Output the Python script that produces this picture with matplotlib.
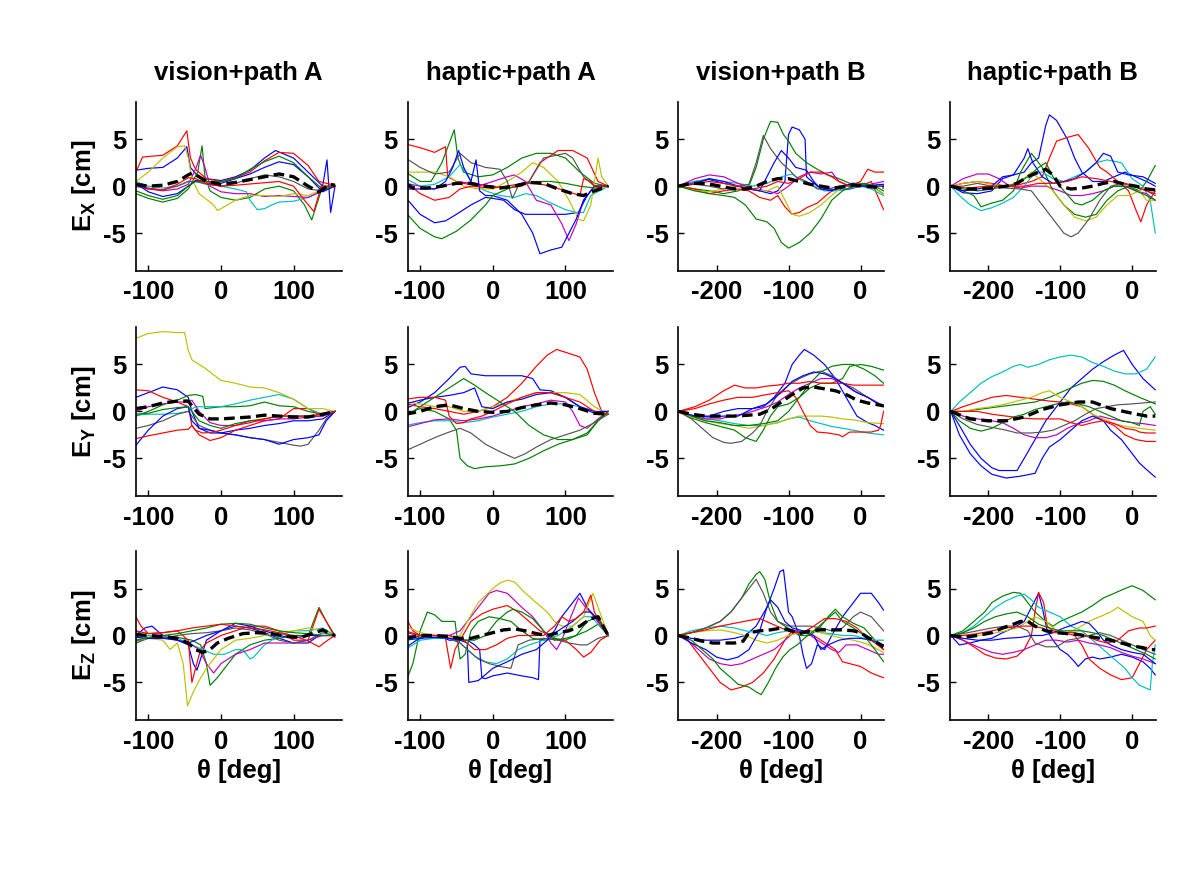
import matplotlib.pyplot as plt

plt.rcParams['font.family'] = 'Liberation Sans'
plt.rcParams['font.weight'] = 'bold'
plt.rcParams['axes.unicode_minus'] = False
plt.rcParams['mathtext.fontset'] = 'custom'
plt.rcParams['mathtext.rm'] = 'Liberation Sans:bold'
plt.rcParams['mathtext.it'] = 'Liberation Sans:bold'
plt.rcParams['mathtext.bf'] = 'Liberation Sans:bold'

# colour of each subject line, in drawing order (matlab default cycle)
colors = ['#0000ff', '#008000', '#ff0000', '#00bfbf', '#bf00bf', '#bfbf00', '#555555',
          '#0000ff', '#008000', '#ff0000']

titles = ['vision+path A', 'haptic+path A', 'vision+path B', 'haptic+path B']
ylabels = ['E$_\\mathrm{X}$ [cm]', 'E$_\\mathrm{Y}$ [cm]', 'E$_\\mathrm{Z}$ [cm]']
xlabel = '\u03b8 [deg]'
xticks_A = [-100, 0, 100]
xticks_B = [-200, -100, 0]
yticks = [-5, 0, 5]

# every panel: 10 subject traces (theta, error) + the mean trace

# ---------------- E_X ----------------
ex_visA = [
    [(-117,1.7),(-100,1.9),(-80,2.0),(-60,3.0),(-47,4.2),(-42,2.0),(-30,0.9),(0,0.6),(20,1.0),(40,1.7),(60,3.0),(75,3.8),(100,3.0),(120,1.5),(140,0.0),(146,2.8),(151,-2.8),(157,0.0)],
    [(-117,-0.8),(-100,-1.3),(-80,-1.7),(-60,-1.3),(-45,-0.3),(-32,1.5),(-26,4.3),(-22,1.0),(-15,-0.5),(0,-1.2),(20,-1.5),(40,-1.2),(60,-0.3),(80,0.0),(100,-0.5),(115,-2.0),(125,-3.6),(140,0.0),(157,0.0)],
    [(-117,1.5),(-108,3.1),(-80,3.3),(-60,4.3),(-47,5.9),(-42,3.0),(-35,1.8),(-20,0.8),(0,0.5),(20,0.9),(40,1.5),(60,2.7),(80,3.6),(100,3.5),(120,2.2),(135,0.5),(157,0.1)],
    [(-117,0.5),(-100,0.0),(-80,-0.2),(-60,0.0),(-45,0.5),(-35,0.5),(-20,0.3),(0,0.0),(20,-0.3),(35,-0.6),(40,-1.5),(50,-2.5),(60,-2.4),(70,-2.0),(80,-1.7),(100,-1.6),(120,-1.2),(140,-0.5),(157,0.0)],
    [(-117,0.0),(-100,-0.3),(-80,-0.5),(-60,-0.3),(-45,0.2),(-35,1.8),(-28,3.3),(-22,2.0),(-15,0.0),(0,-0.6),(20,-0.8),(40,-0.8),(60,-1.1),(80,-1.0),(100,-1.1),(120,-1.2),(140,-0.5),(157,0.0)],
    [(-117,0.5),(-100,1.5),(-80,3.0),(-60,4.2),(-50,4.3),(-45,3.0),(-40,0.8),(-30,-0.8),(-10,-2.0),(-5,-2.6),(0,-2.4),(20,-1.5),(40,-1.0),(60,-1.0),(80,-1.1),(100,-0.8),(120,-1.0),(135,-0.5),(157,0.0)],
    [(-117,0.3),(-100,-0.2),(-80,-0.4),(-60,0.0),(-45,0.5),(-35,0.5),(-20,0.2),(0,0.0),(20,0.3),(40,0.8),(60,1.2),(80,1.0),(100,0.5),(120,-0.3),(140,-0.5),(157,0.0)],
    [(-117,0.3),(-100,-0.6),(-80,-1.1),(-60,-0.8),(-45,0.0),(-35,0.6),(-20,0.5),(0,0.3),(20,0.8),(40,1.3),(60,2.0),(80,2.6),(100,2.3),(120,1.0),(140,-0.6),(157,0.0)],
    [(-117,-0.5),(-100,-1.0),(-80,-1.4),(-60,-1.0),(-45,0.0),(-35,0.5),(-20,0.5),(0,0.5),(20,0.8),(40,1.8),(60,2.6),(80,3.2),(100,2.5),(120,1.0),(140,-0.3),(157,0.0)],
    [(-117,0.3),(-100,-0.3),(-80,-0.4),(-60,0.2),(-45,0.9),(-35,0.8),(-20,0.3),(0,0.0),(20,0.1),(50,0.3),(80,0.5),(100,0.0),(115,-1.5),(128,-2.7),(138,0.0),(157,0.0)],
]
ex_visA_mean = [(-117,0.2),(-100,0.0),(-80,0.1),(-60,0.5),(-45,1.2),(-40,1.4),(-30,1.0),(-20,0.5),(0,0.2),(20,0.4),(40,0.7),(60,1.0),(80,1.3),(100,1.0),(120,0.0),(135,-0.6),(150,0.2),(157,0.1)]

ex_hapA = [
    [(-120,-1.2),(-100,-3.0),(-80,-3.9),(-65,-3.7),(-50,-3.0),(-30,-2.0),(-10,-1.2),(0,-1.3),(15,-1.5),(30,-2.5),(45,-3.0),(60,-3.0),(80,-3.0),(100,-3.0),(118,-2.8),(130,-1.0),(140,0.0),(159,0.0)],
    [(-120,1.5),(-100,0.5),(-85,0.5),(-70,2.5),(-53,6.0),(-48,3.0),(-40,1.5),(-20,1.0),(0,1.2),(20,2.0),(40,3.0),(60,3.5),(80,3.5),(100,3.0),(120,1.5),(140,0.3),(159,0.0)],
    [(-120,4.5),(-100,4.1),(-80,3.6),(-65,4.2),(-62,1.0),(-50,0.5),(-30,0.3),(0,0.0),(20,-0.2),(40,0.0),(50,0.5),(65,2.5),(90,3.8),(110,3.8),(130,3.0),(145,0.5),(159,0.0)],
    [(-120,0.8),(-100,0.0),(-80,0.2),(-60,1.0),(-45,2.3),(-40,1.8),(-30,0.5),(-10,-0.5),(10,-1.0),(30,-1.2),(45,-0.8),(60,-1.0),(80,-1.8),(100,-2.5),(115,-2.8),(125,-2.8),(135,-1.0),(159,0.0)],
    [(-120,0.3),(-100,0.0),(-80,-0.3),(-60,0.2),(-40,0.3),(-20,0.0),(0,0.5),(20,1.0),(30,1.2),(45,0.5),(60,-1.5),(80,-2.0),(95,-4.0),(105,-5.8),(115,-4.0),(125,-1.5),(140,0.0),(159,0.0)],
    [(-120,1.5),(-100,1.5),(-80,1.5),(-60,1.0),(-40,0.0),(-20,-0.3),(0,-0.3),(20,0.5),(40,1.5),(55,2.5),(70,2.0),(90,0.5),(105,-1.5),(118,-3.5),(125,-3.7),(135,-2.0),(145,3.0),(150,1.0),(159,0.0)],
    [(-120,3.0),(-100,2.0),(-80,1.3),(-60,1.5),(-45,3.5),(-30,2.5),(-10,2.0),(10,1.8),(20,0.5),(27,-1.3),(35,0.0),(50,0.5),(70,3.0),(100,3.5),(110,3.0),(125,1.0),(140,0.0),(159,0.0)],
    [(-120,-0.3),(-100,-0.3),(-80,-0.3),(-65,0.5),(-55,2.0),(-47,3.8),(-40,2.0),(-30,0.5),(-23,2.8),(-18,-0.5),(-10,-1.0),(0,-1.0),(20,-1.5),(40,-3.0),(55,-5.0),(65,-7.2),(80,-6.8),(95,-6.5),(105,-5.0),(115,-3.5),(125,-1.5),(140,0.0),(159,0.0)],
    [(-120,-2.8),(-100,-4.5),(-80,-5.4),(-70,-5.6),(-50,-4.8),(-30,-3.6),(-10,-2.0),(0,-1.0),(20,-0.3),(40,0.3),(60,0.5),(80,0.5),(100,0.3),(120,0.0),(140,-0.2),(159,0.0)],
    [(-120,0.5),(-100,-0.8),(-80,-1.5),(-60,-1.2),(-45,-0.3),(-30,0.0),(0,-0.2),(20,0.0),(40,0.3),(60,0.3),(80,0.0),(100,-0.5),(120,-1.0),(125,0.8),(135,0.5),(140,0.0),(159,0.0)],
]
ex_hapA_mean = [(-120,0.3),(-110,-0.2),(-90,-0.2),(-70,0.0),(-50,0.3),(-30,0.3),(-10,0.0),(10,-0.2),(30,0.0),(50,0.4),(70,0.3),(90,-0.3),(110,-0.8),(125,-1.0),(140,-0.5),(159,0.0)]

ex_visB = [
    [(-253,0),(-230,0.5),(-210,0.7),(-190,0.3),(-170,0.0),(-155,-0.3),(-140,-0.5),(-125,-0.8),(-115,-0.5),(-105,0.5),(-100,5.5),(-95,6.3),(-85,6.0),(-77,5.0),(-75,1.0),(-60,0.0),(-45,-0.3),(-30,-0.4),(-15,-0.3),(0,0.0),(15,0.0),(32,0.0)],
    [(-253,0),(-230,-0.3),(-210,-0.5),(-190,-0.8),(-170,-0.5),(-155,0.0),(-145,2.0),(-135,5.0),(-125,6.9),(-115,6.8),(-107,5.5),(-100,4.8),(-90,3.5),(-75,2.5),(-60,1.8),(-45,1.2),(-30,0.8),(-15,0.3),(0,0.3),(15,0.0),(32,-0.8)],
    [(-253,0),(-230,-0.3),(-210,-0.8),(-190,-0.5),(-170,-0.3),(-155,-0.5),(-140,-1.2),(-125,-1.5),(-115,-1.0),(-105,-2.2),(-95,-3.0),(-85,-2.8),(-75,-2.3),(-60,-1.8),(-45,-0.8),(-30,0.0),(-15,0.2),(0,0.0),(15,0.5),(32,-2.5)],
    [(-253,0),(-230,0.5),(-210,0.8),(-190,0.5),(-170,0.3),(-150,0.0),(-130,0.3),(-110,1.0),(-95,1.3),(-80,0.5),(-65,0.0),(-50,-0.5),(-35,-0.5),(-20,-0.3),(0,0.0),(15,-0.3),(32,-1.0)],
    [(-253,0),(-230,0.8),(-210,1.2),(-190,1.0),(-170,0.3),(-150,-0.3),(-130,-0.5),(-115,-0.8),(-100,0.0),(-85,1.0),(-70,1.5),(-55,1.3),(-40,1.5),(-30,0.5),(-15,0.0),(0,0.0),(20,0.3),(32,0.5)],
    [(-253,0),(-230,-0.5),(-210,-0.6),(-190,-0.3),(-170,0.0),(-150,-0.3),(-130,-0.5),(-115,0.0),(-105,-1.5),(-95,-3.0),(-85,-3.2),(-70,-2.8),(-55,-2.0),(-40,-1.0),(-25,0.0),(0,0.2),(15,0.0),(32,-0.8)],
    [(-253,0),(-230,0.2),(-210,0.0),(-190,-0.3),(-170,0.0),(-155,0.2),(-145,2.5),(-135,5.4),(-125,4.0),(-110,2.5),(-100,1.8),(-90,1.0),(-75,0.5),(-60,-0.3),(-45,-0.3),(-30,0.0),(-15,0.0),(0,0.2),(15,0.0),(32,0.0)],
    [(-253,0),(-230,0.3),(-210,0.8),(-190,0.5),(-170,0.0),(-155,-0.3),(-140,-0.5),(-130,1.0),(-120,2.5),(-110,3.8),(-100,3.0),(-90,2.0),(-75,1.7),(-65,0.5),(-55,-0.3),(-40,-0.5),(-25,0.0),(-10,0.3),(0,0.0),(32,0.2)],
    [(-253,0),(-230,-0.5),(-210,-0.8),(-190,-1.0),(-175,-1.2),(-160,-2.0),(-145,-3.5),(-130,-3.8),(-120,-4.5),(-110,-6.0),(-100,-6.6),(-85,-6.0),(-70,-5.0),(-55,-3.5),(-40,-1.5),(-25,-0.5),(-10,0.0),(5,0.3),(20,0.0),(32,-0.5)],
    [(-253,0),(-230,0.3),(-210,0.5),(-190,0.3),(-170,0.0),(-150,-0.3),(-130,0.0),(-115,0.5),(-100,0.3),(-85,0.8),(-70,1.5),(-55,1.5),(-40,1.0),(-30,0.5),(-15,0.0),(0,0.5),(10,1.8),(20,1.5),(32,1.5)],
]
ex_visB_mean = [(-253,0),(-235,0.3),(-215,0.3),(-195,0.0),(-175,-0.3),(-160,-0.3),(-145,0.0),(-130,0.5),(-115,0.8),(-100,0.8),(-85,0.5),(-70,0.2),(-55,0.0),(-40,-0.2),(-25,-0.1),(-10,0.1),(5,0.0),(20,-0.1),(32,-0.1)]

ex_hapB = [
    [(-252,0),(-235,-0.7),(-215,-0.8),(-195,-0.5),(-180,0.8),(-165,1.2),(-150,1.5),(-140,2.5),(-130,3.0),(-120,6.5),(-115,7.6),(-105,7.0),(-90,5.0),(-80,3.0),(-70,1.5),(-55,0.5),(-40,0.5),(-25,1.0),(-10,1.5),(5,1.0),(20,0.5),(32,0.0)],
    [(-252,0),(-235,-0.5),(-220,-1.0),(-210,-2.2),(-195,-1.8),(-180,-1.5),(-165,-0.5),(-155,1.5),(-140,3.5),(-125,2.0),(-110,-0.5),(-95,-2.0),(-80,-3.0),(-65,-3.3),(-50,-3.0),(-35,-1.5),(-20,-0.5),(-5,0.0),(10,-0.5),(20,0.5),(32,2.2)],
    [(-252,0),(-235,0.3),(-215,0.5),(-195,0.3),(-175,0.0),(-155,0.2),(-140,0.5),(-125,1.0),(-115,3.0),(-105,4.8),(-90,5.2),(-75,5.5),(-60,4.0),(-45,2.0),(-35,1.5),(-20,0.5),(-5,-0.5),(5,-2.5),(12,-3.8),(20,-2.0),(32,-0.5)],
    [(-252,0),(-240,-1.0),(-225,-2.0),(-210,-2.6),(-195,-2.3),(-180,-1.8),(-165,-1.2),(-150,0.0),(-135,1.5),(-125,1.5),(-110,0.8),(-95,0.5),(-80,1.0),(-65,1.5),(-50,2.5),(-35,2.8),(-15,2.5),(0,0.8),(15,0.0),(25,-1.5),(32,-5.0)],
    [(-252,0),(-235,0.8),(-215,1.3),(-200,1.3),(-185,0.8),(-170,0.0),(-155,-0.2),(-140,0.0),(-120,0.0),(-100,-0.5),(-85,-1.0),(-70,-1.0),(-55,-0.8),(-40,-0.5),(-25,0.0),(-10,0.0),(5,-0.5),(20,-0.8),(32,-1.5)],
    [(-252,0),(-235,0.3),(-215,0.5),(-195,0.2),(-175,0.0),(-155,0.5),(-140,1.5),(-125,0.5),(-110,-0.5),(-95,-2.0),(-80,-3.3),(-65,-3.7),(-50,-3.3),(-35,-2.0),(-20,-1.0),(-5,-1.0),(10,-0.5),(20,-1.5),(32,-1.5)],
    [(-252,0),(-235,0.0),(-215,0.3),(-195,0.0),(-175,-0.2),(-155,-0.3),(-140,-0.5),(-125,-2.0),(-110,-3.5),(-95,-5.0),(-85,-5.4),(-75,-5.0),(-60,-3.5),(-45,-1.5),(-30,0.0),(-15,0.3),(0,0.0),(20,-0.5),(32,-1.0)],
    [(-252,0),(-235,-0.5),(-215,-0.3),(-195,0.0),(-180,1.0),(-165,1.2),(-150,3.0),(-145,4.0),(-138,2.5),(-125,1.0),(-110,0.3),(-95,0.5),(-80,0.8),(-65,1.5),(-50,2.5),(-40,3.5),(-30,3.2),(-20,1.5),(-5,1.2),(15,1.0),(32,0.3)],
    [(-252,0),(-235,-0.3),(-215,-0.5),(-195,-0.3),(-175,0.0),(-160,0.3),(-145,1.0),(-130,2.0),(-120,2.5),(-110,1.0),(-95,-0.5),(-80,-1.8),(-70,-2.0),(-55,-1.5),(-40,-0.5),(-25,0.0),(-10,0.0),(5,-0.5),(20,-1.0),(32,-1.5)],
    [(-252,0),(-230,-0.2),(-200,0.0),(-170,0.0),(-150,0.0),(-130,0.3),(-110,0.3),(-90,0.5),(-70,1.0),(-50,0.8),(-30,0.5),(-10,0.3),(5,0.0),(20,-0.5),(32,-0.8)],
]
ex_hapB_mean = [(-252,0),(-235,-0.3),(-215,-0.3),(-195,-0.2),(-175,0.0),(-160,0.3),(-145,1.0),(-130,1.5),(-120,1.8),(-110,1.2),(-100,0.0),(-85,-0.3),(-70,-0.2),(-55,0.0),(-40,0.3),(-25,0.5),(-10,0.2),(5,0.0),(20,-0.3),(32,-0.4)]

# ---------------- E_Y ----------------
ey_visA = [
    [(-117,1.5),(-100,2.0),(-80,2.6),(-60,2.3),(-45,1.5),(-40,0.0),(-30,-1.8),(-15,-2.3),(0,-2.3),(20,-2.0),(40,-1.8),(60,-1.5),(80,-1.3),(100,-1.0),(120,-1.0),(140,-0.8),(157,0.0)],
    [(-117,-0.5),(-100,0.0),(-80,0.7),(-60,1.2),(-45,1.7),(-35,1.8),(-25,1.6),(-22,0.3),(0,0.5),(20,0.5),(40,0.6),(60,1.0),(80,0.6),(100,0.5),(120,0.0),(140,-0.3),(157,0.0)],
    [(-117,2.3),(-100,2.2),(-80,1.5),(-60,1.0),(-45,0.5),(-40,-1.5),(-30,-2.5),(-15,-3.1),(0,-2.8),(20,-2.0),(40,-1.5),(60,-1.0),(80,-0.8),(100,0.3),(120,0.3),(140,-0.5),(157,0.0)],
    [(-117,-0.4),(-100,-0.3),(-80,-0.3),(-60,-0.2),(-45,0.0),(-35,0.5),(-20,0.5),(0,0.5),(20,0.8),(40,1.2),(60,1.5),(80,1.8),(100,1.3),(120,0.3),(140,-0.3),(157,0.0)],
    [(-117,0.0),(-100,0.5),(-80,0.8),(-60,1.0),(-45,1.0),(-40,1.2),(-30,0.0),(-15,-1.2),(0,-1.5),(20,-1.5),(40,-1.0),(60,-1.0),(80,-0.8),(100,-0.8),(120,-0.6),(140,-0.5),(157,0.0)],
    [(-117,7.8),(-100,8.3),(-80,8.5),(-60,8.4),(-50,8.4),(-45,6.5),(-40,5.5),(-20,4.5),(0,3.3),(20,3.0),(40,2.6),(60,2.5),(80,2.0),(100,1.3),(120,0.3),(140,0.3),(157,0.0)],
    [(-117,-1.8),(-100,-1.5),(-80,-1.0),(-60,-0.3),(-45,0.0),(-40,-0.5),(-30,-1.5),(-15,-2.0),(0,-2.3),(20,-2.5),(40,-2.8),(60,-3.0),(80,-3.3),(100,-3.6),(110,-3.7),(120,-3.5),(135,-2.0),(145,-0.8),(157,0.0)],
    [(-117,-3.6),(-100,-2.0),(-80,-0.5),(-60,0.3),(-45,0.5),(-40,-1.0),(-30,-1.8),(-15,-2.0),(0,-2.3),(20,-2.5),(40,-2.8),(60,-3.0),(80,-3.5),(100,-3.0),(120,-2.8),(135,-2.5),(145,-1.0),(157,0.0)],
    [(-117,-0.3),(-100,-0.2),(-80,0.2),(-60,0.4),(-45,0.5),(-40,0.0),(-30,-1.0),(-15,-1.5),(0,-1.8),(20,-1.3),(40,-1.0),(60,-0.8),(80,-0.5),(100,-0.5),(120,-0.5),(140,-0.3),(157,0.0)],
    [(-117,-2.9),(-100,-2.6),(-80,-2.3),(-60,-2.0),(-45,-1.9),(-40,-1.5),(-35,-2.0),(-25,-2.3),(-10,-2.2),(0,-2.0),(20,-1.5),(40,-1.2),(60,-0.8),(80,-0.5),(100,-0.5),(120,-0.5),(140,-0.3),(157,0.0)],
]
ey_visA_mean = [(-117,0.3),(-100,0.5),(-80,0.9),(-60,1.1),(-45,1.1),(-40,0.6),(-30,-0.3),(-15,-0.8),(0,-0.8),(20,-0.7),(40,-0.6),(60,-0.4),(80,-0.5),(100,-0.6),(120,-0.6),(140,-0.3),(157,0.0)]

ey_hapA = [
    [(-120,0.3),(-100,1.0),(-80,2.0),(-60,3.5),(-45,4.7),(-38,4.8),(-30,4.0),(-10,3.8),(10,3.8),(40,3.8),(55,3.5),(65,2.3),(80,2.2),(100,1.5),(120,0.5),(140,-0.2),(159,-0.3)],
    [(-120,-0.3),(-100,0.3),(-80,0.0),(-60,-0.8),(-50,-2.0),(-45,-5.0),(-35,-5.8),(-25,-6.1),(-10,-5.9),(10,-5.8),(30,-5.6),(50,-5.0),(70,-4.2),(90,-3.5),(110,-3.0),(130,-2.3),(145,-1.0),(159,0.0)],
    [(-120,0.8),(-100,0.5),(-80,0.3),(-60,0.0),(-40,-0.3),(-20,0.0),(0,0.5),(20,1.5),(40,3.0),(60,4.8),(75,6.0),(88,6.6),(100,6.3),(120,5.8),(130,4.5),(140,2.0),(150,0.0),(159,0.0)],
    [(-120,-1.5),(-100,-1.2),(-80,-1.0),(-60,-1.0),(-40,-1.2),(-20,-1.0),(0,-0.6),(20,-0.3),(40,0.0),(60,0.5),(80,0.8),(100,0.8),(120,0.5),(140,0.0),(159,-0.3)],
    [(-120,-1.7),(-100,-1.3),(-80,-0.9),(-60,-0.8),(-40,-1.0),(-20,-0.8),(0,-0.5),(20,0.0),(40,0.5),(60,0.8),(80,1.2),(100,1.0),(110,0.0),(120,-1.5),(130,-1.8),(145,-0.8),(159,0.0)],
    [(-120,1.0),(-100,0.8),(-80,0.5),(-60,0.5),(-40,0.0),(-20,0.0),(0,0.5),(20,1.0),(40,1.5),(60,2.0),(80,2.0),(100,2.0),(120,1.8),(140,0.5),(159,-0.3)],
    [(-120,-4.2),(-100,-3.5),(-80,-2.8),(-60,-2.2),(-45,-1.8),(-30,-2.3),(-10,-3.5),(10,-4.3),(30,-5.0),(45,-4.5),(60,-3.8),(80,-3.0),(100,-2.5),(120,-2.0),(140,-1.2),(159,-0.3)],
    [(-120,0.8),(-100,1.2),(-80,1.5),(-60,1.7),(-40,2.0),(-25,2.5),(-15,0.5),(0,0.3),(20,1.0),(40,1.3),(60,1.8),(80,2.0),(100,1.5),(120,0.5),(140,0.0),(159,0.0)],
    [(-120,-0.5),(-100,0.5),(-80,1.5),(-60,2.5),(-40,3.5),(-25,2.8),(-10,2.0),(10,1.0),(30,0.0),(50,-1.5),(70,-2.5),(90,-3.0),(110,-3.0),(130,-2.5),(145,-1.0),(159,0.0)],
    [(-120,1.3),(-100,1.5),(-80,1.5),(-65,1.2),(-60,-0.5),(-50,-1.3),(-40,-1.2),(-30,-0.8),(-15,-0.5),(0,0.0),(20,0.8),(40,1.5),(60,2.0),(80,2.0),(100,1.5),(120,1.0),(140,0.0),(159,-0.3)],
]
ey_hapA_mean = [(-120,-0.3),(-100,0.0),(-80,0.5),(-60,0.7),(-40,0.3),(-20,0.0),(0,-0.1),(20,0.0),(40,0.4),(60,0.7),(80,0.9),(100,0.7),(120,0.3),(140,-0.2),(159,-0.3)]

ey_visB = [
    [(-253,0),(-230,-0.5),(-210,-0.5),(-190,0.0),(-170,0.3),(-150,0.3),(-135,0.5),(-120,1.5),(-105,3.0),(-95,5.0),(-85,6.0),(-78,6.6),(-65,6.0),(-50,5.0),(-35,3.5),(-20,1.5),(-5,-0.5),(10,-1.2),(20,-1.5),(32,-2.0)],
    [(-253,0),(-235,-0.7),(-215,-1.2),(-195,-1.6),(-175,-2.0),(-160,-2.8),(-145,-3.2),(-135,-2.0),(-125,-0.5),(-115,0.5),(-100,0.8),(-85,1.5),(-70,2.5),(-55,3.0),(-40,3.0),(-25,3.5),(-15,4.8),(0,5.0),(15,4.8),(32,4.4)],
    [(-253,0),(-230,0.5),(-210,1.2),(-190,2.2),(-175,2.8),(-160,2.5),(-145,2.5),(-130,2.7),(-115,2.8),(-100,3.0),(-85,3.0),(-70,3.2),(-55,3.0),(-40,3.0),(-25,3.0),(-10,2.8),(10,2.8),(32,2.8)],
    [(-253,0),(-235,-0.5),(-215,-0.8),(-195,-1.0),(-175,-1.3),(-155,-1.5),(-135,-1.5),(-115,-1.2),(-100,-0.8),(-85,-0.6),(-70,-1.0),(-55,-1.3),(-40,-1.6),(-25,-1.8),(-10,-2.0),(10,-2.3),(32,-2.5)],
    [(-253,0),(-235,-0.5),(-215,-0.8),(-195,-0.8),(-180,-0.5),(-165,-0.3),(-150,0.0),(-130,0.5),(-115,1.0),(-100,1.8),(-85,2.5),(-70,3.0),(-55,3.5),(-40,3.5),(-25,3.0),(-10,2.2),(10,1.5),(32,0.6)],
    [(-253,0),(-235,-0.6),(-215,-1.0),(-195,-1.3),(-175,-1.5),(-155,-1.8),(-135,-1.5),(-115,-1.2),(-100,-0.8),(-85,-0.5),(-70,-0.5),(-55,-0.5),(-40,-0.6),(-25,-0.8),(-10,-0.9),(10,-1.2),(32,-1.3)],
    [(-253,0),(-235,-0.8),(-220,-1.8),(-205,-2.8),(-190,-3.3),(-180,-3.4),(-165,-3.2),(-150,-2.3),(-140,-1.5),(-130,0.0),(-115,1.8),(-100,2.8),(-85,3.5),(-70,4.0),(-55,4.3),(-40,3.8),(-25,3.0),(-10,2.5),(10,1.5),(32,0.5)],
    [(-253,0),(-230,-0.5),(-210,-0.6),(-190,-0.5),(-170,-0.5),(-150,0.3),(-130,0.8),(-110,2.0),(-95,3.2),(-80,3.8),(-65,4.2),(-50,4.0),(-35,3.5),(-20,2.8),(-5,2.0),(10,1.5),(20,1.0),(32,0.5)],
    [(-253,0),(-235,-0.5),(-215,-1.0),(-195,-1.2),(-175,-1.5),(-155,-1.5),(-135,-1.3),(-115,-1.0),(-100,0.0),(-85,1.5),(-70,3.0),(-55,4.2),(-40,4.8),(-25,5.0),(-10,5.0),(5,4.5),(20,3.8),(32,3.0)],
    [(-253,0),(-230,0.3),(-210,0.8),(-190,1.2),(-170,1.5),(-150,1.5),(-130,1.8),(-115,2.0),(-100,2.2),(-90,1.5),(-80,0.0),(-70,-1.5),(-60,-2.2),(-45,-2.3),(-30,-2.5),(-25,-2.7),(-15,-2.2),(0,-2.2),(15,-2.2),(25,-2.0),(28,-1.5),(32,0.0)],
]
ey_visB_mean = [(-253,0),(-235,-0.3),(-215,-0.5),(-195,-0.5),(-175,-0.5),(-155,-0.4),(-140,-0.3),(-125,0.2),(-110,1.0),(-95,1.8),(-80,2.5),(-65,2.6),(-50,2.4),(-35,2.2),(-20,1.8),(-5,1.2),(10,0.9),(32,0.6)]

ey_hapB = [
    [(-252,0),(-240,-1.5),(-225,-3.5),(-210,-5.0),(-195,-6.0),(-185,-6.3),(-160,-6.3),(-150,-5.0),(-135,-3.0),(-120,-1.0),(-100,1.0),(-85,2.5),(-70,3.5),(-55,4.5),(-40,5.3),(-25,6.0),(-12,6.5),(0,5.0),(15,3.5),(32,2.3)],
    [(-252,0),(-235,0.0),(-215,0.2),(-195,0.4),(-175,0.6),(-155,0.8),(-135,1.0),(-115,1.5),(-100,2.0),(-85,2.5),(-70,3.0),(-55,3.3),(-40,3.2),(-25,2.8),(-10,2.2),(10,1.5),(32,0.8)],
    [(-252,0),(-235,0.5),(-215,1.0),(-195,1.5),(-175,1.7),(-155,1.5),(-135,1.3),(-115,1.1),(-100,1.0),(-85,0.8),(-70,0.5),(-55,-0.3),(-40,-1.0),(-25,-1.5),(-10,-2.5),(5,-3.0),(20,-3.2),(32,-3.2)],
    [(-252,0),(-240,1.0),(-225,2.0),(-210,3.0),(-195,3.7),(-180,4.2),(-165,4.8),(-155,5.0),(-145,4.7),(-130,5.0),(-115,5.5),(-100,5.8),(-85,6.0),(-70,5.8),(-55,5.2),(-40,4.8),(-25,4.3),(-10,4.0),(5,4.0),(20,4.5),(32,5.8)],
    [(-252,0),(-235,-0.5),(-215,-0.8),(-195,-1.0),(-180,-1.2),(-165,-1.8),(-150,-2.5),(-135,-2.8),(-120,-2.8),(-105,-2.5),(-90,-1.8),(-75,-1.3),(-60,-1.0),(-45,-0.5),(-30,-0.8),(-15,-1.0),(0,-1.2),(15,-1.3),(32,-1.5)],
    [(-252,0),(-235,0.0),(-215,0.3),(-195,0.5),(-175,0.8),(-155,1.2),(-140,1.5),(-125,2.0),(-115,2.2),(-100,1.5),(-85,1.0),(-70,0.5),(-55,-0.3),(-40,-0.8),(-25,-1.3),(-10,-1.6),(10,-1.8),(32,-2.0)],
    [(-252,0),(-235,-0.8),(-215,-1.4),(-195,-1.7),(-175,-2.0),(-160,-2.3),(-140,-2.3),(-125,-2.2),(-110,-2.0),(-95,-1.5),(-80,-1.0),(-65,-0.3),(-50,0.3),(-35,0.5),(-20,0.7),(0,0.8),(15,0.9),(32,1.0)],
    [(-252,0),(-240,-2.5),(-225,-4.5),(-210,-5.8),(-195,-6.7),(-175,-7.1),(-155,-6.9),(-135,-6.6),(-125,-5.0),(-115,-3.8),(-100,-3.0),(-85,-2.0),(-70,-1.0),(-55,-0.5),(-40,-1.0),(-30,-2.0),(-15,-3.0),(-5,-4.0),(10,-5.5),(20,-6.2),(32,-7.0)],
    [(-252,0),(-240,-1.0),(-225,-1.8),(-210,-2.1),(-195,-1.8),(-180,-1.2),(-165,-0.6),(-150,-0.3),(-135,0.2),(-120,0.5),(-105,0.8),(-90,1.0),(-75,0.8),(-60,0.5),(-45,0.0),(-30,-0.5),(-15,-1.0),(0,-1.2),(10,-1.5),(15,0.0),(25,0.5),(32,-0.3)],
    [(-252,0),(-235,0.0),(-215,0.0),(-195,-0.3),(-175,-0.5),(-155,-0.7),(-135,-0.8),(-115,-0.8),(-100,-0.8),(-85,-1.2),(-70,-1.5),(-55,-1.2),(-40,-1.0),(-25,-1.3),(-10,-1.8),(5,-2.0),(10,-2.2),(20,-2.3),(32,-2.3)],
]
ey_hapB_mean = [(-252,0),(-225,-0.8),(-200,-1.0),(-175,-1.0),(-150,-0.6),(-125,0.2),(-100,0.7),(-75,1.0),(-55,1.0),(-30,0.3),(0,-0.2),(20,-0.5),(32,-0.5)]

# ---------------- E_Z ----------------
ez_visA = [
    [(-117,0.0),(-105,0.8),(-95,1.0),(-80,0.0),(-60,-0.5),(-45,-1.0),(-38,-3.0),(-33,-3.7),(-28,-2.5),(-20,-0.5),(0,0.5),(20,1.0),(40,0.8),(60,0.3),(80,-0.3),(100,-0.8),(120,-0.8),(135,0.0),(157,0.0)],
    [(-117,-0.8),(-100,-0.3),(-80,0.0),(-60,-0.2),(-40,-0.5),(-28,-1.0),(-20,-3.0),(-15,-5.3),(-5,-4.5),(5,-3.5),(20,-2.0),(40,-1.0),(60,-0.5),(80,-0.3),(100,0.0),(120,0.0),(135,3.0),(145,1.5),(157,0.0)],
    [(-117,2.0),(-110,1.0),(-100,0.2),(-80,0.3),(-60,0.5),(-45,-0.5),(-40,-5.0),(-35,-3.5),(-28,-1.5),(-20,-0.8),(0,0.0),(20,0.5),(40,1.0),(60,1.0),(80,0.5),(100,-0.5),(120,-0.5),(135,2.8),(145,1.5),(157,-0.2)],
    [(-117,-0.2),(-100,0.0),(-80,0.0),(-60,-0.3),(-40,-1.0),(-25,-1.5),(-10,-2.0),(5,-2.0),(20,-1.5),(30,-1.5),(40,-2.5),(45,-2.3),(60,-1.0),(80,0.0),(100,0.5),(120,0.5),(140,0.8),(157,0.0)],
    [(-117,-0.6),(-100,-0.3),(-80,-0.2),(-60,-0.5),(-40,-1.0),(-30,-1.5),(-20,-3.0),(-10,-4.0),(0,-3.0),(20,-2.0),(40,-1.5),(60,-0.8),(80,-0.8),(100,-0.8),(120,-0.5),(140,0.0),(157,0.0)],
    [(-117,-0.5),(-100,-0.3),(-80,-0.5),(-70,-1.5),(-60,-0.8),(-52,-3.0),(-46,-7.5),(-38,-6.0),(-30,-4.8),(-20,-3.5),(-10,-2.5),(0,-1.5),(20,-0.5),(40,-0.3),(60,0.0),(80,0.3),(100,0.5),(120,0.8),(140,0.5),(157,0.0)],
    [(-117,0.5),(-100,-0.3),(-80,-0.3),(-60,0.0),(-40,0.2),(-20,0.3),(0,0.5),(20,0.8),(40,0.6),(60,0.2),(80,-0.5),(100,-0.8),(120,-0.5),(140,0.3),(157,0.0)],
    [(-117,-0.2),(-100,-0.3),(-80,-0.3),(-60,-0.5),(-45,-0.8),(-35,-0.5),(-20,0.0),(0,0.5),(20,1.3),(40,1.0),(60,0.5),(80,0.0),(100,-0.3),(120,0.0),(140,0.0),(157,0.0)],
    [(-117,-0.5),(-100,-0.2),(-80,0.0),(-60,0.2),(-40,0.5),(-20,0.8),(0,1.2),(20,1.3),(40,1.2),(60,0.8),(80,0.5),(100,0.3),(120,0.2),(140,0.0),(157,0.0)],
    [(-117,0.5),(-100,0.2),(-80,0.3),(-60,0.5),(-40,0.8),(-20,1.0),(0,1.2),(20,1.0),(40,0.8),(60,0.6),(80,0.3),(100,0.0),(120,-0.6),(135,-1.2),(147,-0.5),(157,0.0)],
]
ez_visA_mean = [(-117,0.1),(-100,0.0),(-80,-0.1),(-60,-0.3),(-45,-0.8),(-35,-1.5),(-25,-1.8),(-15,-1.5),(-5,-0.8),(10,-0.3),(30,0.2),(50,0.3),(70,0.2),(90,-0.1),(110,-0.2),(130,0.3),(140,0.6),(150,0.2),(157,0.0)]

ez_hapA = [
    [(-120,-1.3),(-105,-0.5),(-90,0.0),(-75,0.0),(-60,-0.5),(-45,-0.5),(-35,-0.8),(-33,-5.0),(-20,-4.8),(-15,-4.5),(-10,-4.6),(0,-4.3),(20,-4.0),(40,-4.3),(55,-4.5),(63,-4.7),(65,-0.5),(75,-0.3),(85,0.5),(95,2.0),(110,3.5),(120,4.5),(130,3.0),(140,2.0),(150,1.0),(159,0.0)],
    [(-120,-5.0),(-110,-3.0),(-100,0.5),(-90,2.5),(-80,2.2),(-70,1.5),(-60,1.5),(-52,1.5),(-45,-2.5),(-38,-2.0),(-30,0.5),(-20,1.5),(-5,2.0),(10,1.8),(25,1.5),(40,0.5),(55,-0.3),(70,-0.5),(85,-0.3),(100,-0.5),(115,0.0),(130,0.5),(145,1.2),(159,0.0)],
    [(-120,2.0),(-110,0.5),(-100,0.0),(-80,-0.3),(-65,-0.3),(-58,-3.5),(-52,-1.5),(-45,-0.5),(-30,1.5),(-15,2.3),(0,2.8),(20,3.2),(35,2.5),(50,1.5),(65,0.5),(80,0.0),(90,-0.5),(100,-0.5),(115,-1.5),(125,-2.3),(135,-1.8),(148,-0.5),(159,0.0)],
    [(-120,-1.5),(-100,-0.5),(-80,-0.3),(-60,-0.3),(-45,-0.8),(-35,-1.5),(-25,-2.2),(-10,-2.8),(5,-3.0),(20,-2.5),(35,-1.5),(50,-1.0),(70,-0.5),(90,0.0),(110,1.0),(125,2.0),(135,2.0),(148,1.0),(159,0.0)],
    [(-120,0.3),(-100,0.0),(-80,0.0),(-60,0.0),(-45,0.5),(-35,1.5),(-20,3.0),(-5,4.5),(5,4.8),(20,4.5),(40,3.0),(55,2.0),(70,0.5),(80,-0.8),(88,-1.5),(95,-0.5),(105,1.5),(118,4.0),(128,3.0),(140,2.0),(159,0.0)],
    [(-120,1.0),(-100,0.3),(-80,0.0),(-60,-0.3),(-45,0.0),(-35,1.5),(-20,3.5),(0,5.0),(10,5.6),(20,5.9),(30,5.7),(45,4.5),(60,3.5),(75,2.5),(85,1.5),(95,1.0),(110,1.0),(125,2.0),(138,4.5),(145,3.0),(152,1.5),(159,0.0)],
    [(-120,0.0),(-100,-0.2),(-80,0.0),(-60,-0.3),(-45,-0.8),(-35,-1.5),(-20,-2.5),(-5,-3.0),(10,-3.3),(25,-3.5),(35,-1.0),(50,-0.5),(70,-0.3),(90,-0.5),(105,-0.8),(120,-1.0),(130,-1.0),(145,-0.3),(159,0.0)],
    [(-120,-0.5),(-100,-0.3),(-80,-0.2),(-60,-0.3),(-45,-0.5),(-35,-0.5),(-25,-1.0),(-18,-1.5),(-15,-4.5),(0,-3.5),(20,-2.8),(40,-2.0),(60,-1.5),(75,-0.5),(90,0.5),(110,1.5),(125,2.5),(135,2.5),(148,1.5),(159,0.0)],
    [(-120,-0.5),(-100,0.0),(-80,0.0),(-60,0.0),(-40,-0.5),(-25,-0.5),(-10,0.0),(5,1.5),(20,2.5),(28,2.8),(40,2.5),(55,1.8),(70,0.5),(85,-0.5),(100,-0.3),(115,0.0),(130,1.5),(145,2.0),(159,0.0)],
    [(-120,0.5),(-100,0.0),(-80,0.0),(-60,0.0),(-40,-0.5),(-25,-1.5),(-10,-1.5),(5,-1.0),(20,-0.3),(35,0.0),(50,0.0),(70,0.0),(85,1.0),(95,2.0),(105,1.5),(115,1.8),(125,2.5),(135,4.3),(140,2.5),(150,1.0),(159,0.0)],
]
ez_hapA_mean = [(-120,-0.3),(-100,0.0),(-80,0.0),(-60,-0.1),(-45,-0.3),(-30,-0.3),(-15,0.0),(0,0.3),(15,0.6),(30,0.7),(45,0.5),(60,0.2),(75,0.0),(90,0.3),(105,0.5),(120,1.0),(135,1.8),(145,2.0),(152,1.0),(159,0.0)]

ez_visB = [
    [(-253,0),(-235,-0.3),(-215,-0.5),(-195,-0.5),(-175,-0.3),(-160,0.0),(-145,1.0),(-130,3.0),(-120,5.0),(-112,6.8),(-107,7.0),(-100,2.5),(-95,2.0),(-90,1.0),(-85,0.0),(-80,-2.0),(-75,-3.5),(-68,-3.0),(-60,-1.0),(-50,-1.5),(-40,0.0),(-25,2.0),(-10,3.5),(0,4.5),(15,4.5),(25,3.5),(32,2.7)],
    [(-253,0),(-235,0.3),(-215,0.8),(-195,1.5),(-180,2.5),(-165,4.0),(-155,5.5),(-145,6.5),(-140,6.8),(-133,6.0),(-125,3.5),(-115,1.5),(-105,1.0),(-95,0.5),(-85,0.0),(-70,0.0),(-55,1.0),(-45,2.0),(-35,2.8),(-25,2.0),(-10,1.3),(5,0.8),(20,-0.5),(32,-1.5)],
    [(-253,0),(-240,-0.5),(-225,-2.0),(-210,-3.5),(-195,-5.0),(-180,-5.8),(-165,-5.5),(-150,-5.0),(-135,-4.0),(-120,-2.5),(-105,-0.5),(-95,0.5),(-80,0.3),(-65,0.0),(-55,-0.5),(-45,-1.0),(-35,-1.5),(-25,-2.8),(-15,-3.0),(0,-3.3),(15,-4.0),(32,-4.5)],
    [(-253,0),(-235,0.5),(-215,0.8),(-195,1.0),(-175,0.8),(-160,0.5),(-145,0.3),(-130,0.0),(-115,0.3),(-100,0.5),(-85,0.5),(-70,0.5),(-55,0.3),(-40,0.2),(-25,0.0),(-10,0.0),(5,-0.3),(20,-0.5),(32,-0.5)],
    [(-253,0),(-240,-0.5),(-225,-1.5),(-210,-2.5),(-195,-3.0),(-180,-3.2),(-165,-3.0),(-150,-2.5),(-135,-2.0),(-120,-1.5),(-105,-0.5),(-90,0.5),(-75,0.3),(-60,-0.5),(-50,-1.0),(-40,-1.5),(-30,-1.8),(-20,-1.0),(-5,-1.0),(10,-1.5),(25,-2.0),(32,-2.0)],
    [(-253,0),(-235,0.3),(-215,0.5),(-195,0.6),(-175,0.3),(-160,0.0),(-145,-0.5),(-130,-0.8),(-115,-0.5),(-100,0.0),(-85,0.3),(-70,0.5),(-55,0.3),(-40,0.0),(-25,-0.3),(-10,-0.5),(5,-0.8),(20,-1.3),(32,-1.8)],
    [(-253,0),(-235,0.3),(-215,0.8),(-195,1.5),(-180,2.5),(-165,4.0),(-155,5.0),(-145,6.0),(-135,4.5),(-125,2.5),(-115,1.5),(-100,1.0),(-85,1.0),(-70,1.0),(-55,0.8),(-40,0.5),(-25,0.8),(-10,2.0),(0,2.5),(15,2.0),(32,0.5)],
    [(-253,0),(-235,-0.8),(-215,-1.5),(-200,-2.3),(-185,-2.6),(-170,-2.3),(-155,-1.5),(-140,0.5),(-130,3.0),(-125,3.8),(-115,3.0),(-105,1.5),(-95,0.8),(-80,0.5),(-65,0.0),(-55,-1.5),(-45,-1.0),(-30,-0.5),(-15,-0.3),(0,-0.3),(15,-0.5),(32,-1.0)],
    [(-253,0),(-235,-0.5),(-220,-1.5),(-205,-2.5),(-195,-3.5),(-180,-4.5),(-170,-5.2),(-155,-5.5),(-145,-6.0),(-138,-6.3),(-128,-5.0),(-118,-3.5),(-108,-2.3),(-98,-1.5),(-88,-1.0),(-78,-0.3),(-65,0.5),(-50,1.5),(-35,2.5),(-25,1.5),(-10,0.8),(5,0.0),(20,-1.5),(32,-2.8)],
    [(-253,0),(-235,0.3),(-215,0.6),(-195,1.0),(-175,1.3),(-155,1.6),(-140,1.8),(-125,1.3),(-110,0.8),(-95,0.3),(-80,0.3),(-65,1.0),(-50,1.8),(-35,1.8),(-20,1.5),(-5,0.8),(10,-0.3),(20,-0.8),(32,-1.5)],
]
ez_visB_mean = [(-253,0),(-235,-0.3),(-220,-0.6),(-205,-0.8),(-190,-0.8),(-175,-0.8),(-163,-0.6),(-155,0.3),(-140,0.5),(-125,0.6),(-110,0.8),(-95,0.5),(-85,0.2),(-70,0.5),(-55,0.6),(-40,0.6),(-25,0.6),(-10,0.5),(0,0.3),(10,-0.2),(20,-0.6),(32,-1.2)]

ez_hapB = [
    [(-252,0),(-240,-1.0),(-225,-0.8),(-210,-0.5),(-195,-0.3),(-180,0.3),(-165,0.8),(-150,1.5),(-140,3.0),(-130,4.5),(-125,3.0),(-118,0.5),(-110,-0.5),(-100,-1.5),(-90,-2.0),(-80,-2.8),(-75,-3.3),(-65,-2.5),(-55,-2.3),(-45,-2.5),(-30,-2.3),(-15,-2.0),(0,-2.3),(15,-2.8),(25,-3.5),(32,-4.2)],
    [(-252,0),(-235,0.5),(-220,1.5),(-205,2.5),(-195,3.5),(-180,4.2),(-165,4.6),(-155,4.5),(-145,3.5),(-135,2.5),(-120,1.5),(-110,1.0),(-100,1.5),(-85,2.0),(-70,2.5),(-55,3.2),(-40,4.0),(-25,4.5),(-10,5.0),(0,5.3),(15,4.8),(32,3.8)],
    [(-252,0),(-235,-0.5),(-220,-1.2),(-205,-2.0),(-190,-2.4),(-175,-2.5),(-160,-2.2),(-150,-1.5),(-140,0.0),(-135,2.5),(-130,4.6),(-123,3.5),(-118,1.0),(-110,0.5),(-95,0.3),(-80,0.0),(-70,-1.0),(-60,-2.5),(-45,-3.5),(-30,-4.2),(-15,-4.7),(0,-4.5),(10,-3.0),(20,-1.5),(32,-0.5)],
    [(-252,0),(-235,0.3),(-220,1.0),(-205,2.0),(-190,3.0),(-175,3.7),(-160,4.2),(-150,4.4),(-140,3.8),(-130,3.0),(-115,2.5),(-100,2.0),(-85,1.0),(-70,0.5),(-55,-0.5),(-40,-1.5),(-25,-2.5),(-10,-3.5),(0,-4.5),(10,-5.3),(25,-5.8),(28,-3.0),(32,-1.0)],
    [(-252,0),(-235,-0.5),(-215,-1.2),(-195,-1.8),(-180,-2.0),(-165,-1.8),(-150,-1.5),(-135,-1.0),(-120,-0.5),(-105,-0.5),(-90,-0.7),(-75,-0.5),(-60,-0.8),(-45,-1.0),(-30,-1.3),(-15,-1.8),(0,-2.2),(15,-2.5),(32,-3.0)],
    [(-252,0),(-235,0.0),(-215,0.0),(-195,0.2),(-175,0.5),(-160,0.8),(-145,1.5),(-135,2.0),(-120,1.5),(-105,0.5),(-90,0.3),(-75,0.8),(-60,1.5),(-45,2.0),(-30,2.5),(-20,3.0),(-10,2.5),(0,2.0),(15,1.5),(25,0.0),(32,-0.5)],
    [(-252,0),(-235,0.2),(-215,0.5),(-195,0.8),(-175,1.0),(-160,1.0),(-145,0.5),(-135,-0.8),(-120,-1.2),(-105,-1.2),(-90,-0.5),(-75,-0.3),(-60,0.0),(-45,0.3),(-30,0.0),(-15,-0.5),(0,-1.0),(15,-1.5),(32,-2.0)],
    [(-252,0),(-235,-0.3),(-215,-0.5),(-195,-0.5),(-175,-0.3),(-155,-0.2),(-140,0.0),(-125,0.0),(-110,0.3),(-95,0.8),(-80,1.2),(-70,1.5),(-60,1.3),(-50,0.5),(-40,-0.5),(-30,-1.0),(-15,-1.5),(0,-1.8),(15,-2.0),(32,-3.0)],
    [(-252,0),(-235,0.3),(-220,0.8),(-205,1.5),(-190,2.0),(-175,2.3),(-160,2.5),(-145,2.0),(-130,1.2),(-115,0.8),(-100,0.5),(-85,0.5),(-70,0.5),(-55,0.3),(-40,0.0),(-25,-0.5),(-10,-1.0),(5,-1.5),(20,-2.0),(32,-2.5)],
    [(-252,0),(-235,0.0),(-215,0.2),(-195,0.5),(-175,0.8),(-155,1.0),(-140,1.0),(-125,0.8),(-110,0.3),(-95,0.3),(-80,0.3),(-65,0.0),(-50,-0.5),(-35,-0.8),(-20,-0.5),(-5,0.5),(10,0.8),(20,0.8),(32,1.0)],
]
ez_hapB_mean = [(-252,0),(-235,-0.2),(-215,0.0),(-195,0.3),(-180,0.8),(-165,1.2),(-155,1.5),(-145,1.5),(-135,1.0),(-120,0.5),(-105,0.3),(-90,0.2),(-75,0.1),(-60,-0.1),(-45,-0.3),(-30,-0.5),(-15,-0.8),(0,-1.1),(15,-1.3),(25,-1.5),(32,-1.5)]

panels = [
    [(ex_visA, ex_visA_mean), (ex_hapA, ex_hapA_mean), (ex_visB, ex_visB_mean), (ex_hapB, ex_hapB_mean)],
    [(ey_visA, ey_visA_mean), (ey_hapA, ey_hapA_mean), (ey_visB, ey_visB_mean), (ey_hapB, ey_hapB_mean)],
    [(ez_visA, ez_visA_mean), (ez_hapA, ez_hapA_mean), (ez_visB, ez_visB_mean), (ez_hapB, ez_hapB_mean)],
]

# layout (figure fractions)
lefts = [0.1133, 0.3398, 0.5653, 0.7917]
width = 0.1713
bottoms = [0.690, 0.432, 0.1753]
height = 0.1935

fig = plt.figure(figsize=(12, 8.73), dpi=100)

for r in range(3):
    for c in range(4):
        lines, mean = panels[r][c]
        ax = fig.add_axes([lefts[c], bottoms[r], width, height])
        for color, pts in zip(colors, lines):
            xs, ys = zip(*pts)
            ax.plot(xs, ys, color=color, lw=0.85)
        xs, ys = zip(*mean)
        ax.plot(xs, ys, color='k', lw=2.4, dashes=(3.2, 1.6))

        if c < 2:
            ax.set_xlim(-117, 166)
            ax.set_xticks(xticks_A)
        else:
            ax.set_xlim(-253, 32.5)
            ax.set_xticks(xticks_B)
        ax.set_ylim(-9, 9)
        ax.set_yticks(yticks)

        ax.spines['top'].set_visible(False)
        ax.spines['right'].set_visible(False)
        ax.spines['left'].set_linewidth(1.2)
        ax.spines['bottom'].set_linewidth(1.2)
        ax.tick_params(direction='in', length=4, width=1, labelsize=18.5, pad=7)

        if r == 0:
            ax.set_title(titles[c], fontsize=18.5, fontweight='bold', pad=15.5)
        if c == 0:
            ax.set_ylabel(ylabels[r], fontsize=18.5, fontweight='bold', labelpad=4)
        if r == 2:
            ax.set_xlabel(xlabel, fontsize=18.5, fontweight='bold', labelpad=4)

fig.savefig('out.png', dpi=100)
